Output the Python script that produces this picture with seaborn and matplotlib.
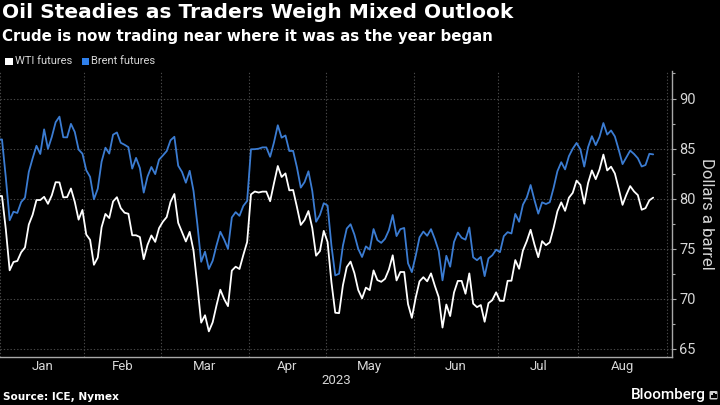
import numpy as np
import pandas as pd
import matplotlib
matplotlib.use("Agg")
import matplotlib.pyplot as plt
from matplotlib.patches import Rectangle, FancyBboxPatch
import seaborn as sns

# ---------------- data (daily settlements, weekdays Dec 30 2022 .. Aug 28 2023) ----------------
START_DATE = "2022-12-30"
END_DATE = "2023-08-28"

wti = [80.26,
       # Jan
       80.26, 76.93, 72.84, 73.67, 73.77, 74.63, 75.12, 77.41, 78.39, 79.86,
       79.86, 80.18, 79.48, 80.33, 81.64, 81.62, 80.13, 80.15, 81.01, 79.68,
       77.90, 78.87,
       # Feb
       76.41, 75.88, 73.39, 74.11, 77.14, 78.47, 78.06, 79.72, 80.14, 79.06,
       78.59, 78.49, 76.34, 76.34, 76.16, 73.95, 75.39, 76.32, 75.68, 77.05,
       # Mar
       77.69, 78.16, 79.68, 80.46, 77.58, 76.66, 75.72, 76.68, 74.80, 71.33,
       67.61, 68.35, 66.74, 67.64, 69.33, 70.90, 69.96, 69.26, 72.81, 73.20,
       72.97, 74.37, 75.67,
       # Apr
       80.42, 80.71, 80.61, 80.70, 80.70, 79.74, 81.53, 83.26, 82.16, 82.52,
       80.83, 80.86, 79.16, 77.37, 77.87, 78.76, 77.07, 74.30, 74.76, 76.78,
       # May
       75.66, 71.66, 68.60, 68.56, 71.34, 73.16, 73.71, 72.56, 70.87, 70.04,
       71.11, 70.86, 72.83, 71.86, 71.69, 71.99, 72.91, 74.34, 71.83, 72.67,
       72.67, 69.46, 68.09,
       # Jun
       70.10, 71.74, 72.15, 71.74, 72.53, 71.29, 70.17, 67.12, 69.42, 68.27,
       70.62, 71.78, 71.78, 70.50, 72.53, 69.51, 69.16, 69.37, 67.70, 69.56,
       69.86, 70.64,
       # Jul
       69.79, 69.79, 71.79, 71.80, 73.86, 72.99, 74.83, 75.75, 76.89, 75.42,
       74.15, 75.75, 75.35, 75.63, 77.07, 78.74, 79.63, 78.78, 80.09, 80.58,
       81.80,
       # Aug
       81.37, 79.49, 81.55, 82.82, 81.94, 82.92, 84.40, 82.82, 83.19, 82.51,
       80.99, 79.38, 80.39, 81.25, 80.72, 80.35, 78.89, 79.05, 79.83, 80.10]

brent = [85.91,
         # Jan
         85.91, 82.10, 77.84, 78.69, 78.57, 79.65, 80.10, 82.67, 84.03, 85.28,
         84.46, 86.92, 84.98, 86.16, 87.63, 88.19, 86.13, 86.12, 87.47, 86.66,
         84.90, 84.49,
         # Feb
         82.84, 82.17, 79.94, 80.99, 83.69, 85.09, 84.50, 86.39, 86.61, 85.58,
         85.38, 85.14, 83.00, 84.07, 83.05, 80.60, 82.21, 83.16, 82.45, 83.89,
         # Mar
         84.31, 84.75, 85.83, 86.18, 83.29, 82.66, 81.59, 82.78, 80.77, 77.45,
         73.69, 74.70, 72.97, 73.79, 75.32, 76.69, 75.91, 74.99, 78.12, 78.65,
         78.28, 79.27, 79.77,
         # Apr
         84.93, 84.94, 84.99, 85.12, 85.12, 84.18, 85.61, 87.33, 86.09, 86.31,
         84.76, 84.77, 83.12, 81.10, 81.66, 82.73, 80.77, 77.69, 78.37, 79.54,
         # May
         79.31, 75.32, 72.33, 72.50, 75.30, 77.01, 77.44, 76.41, 74.98, 74.17,
         75.23, 74.91, 76.96, 75.86, 75.58, 75.99, 76.84, 78.36, 76.26, 76.95,
         77.07, 73.54, 72.66,
         # Jun
         74.28, 76.13, 76.71, 76.29, 76.95, 75.96, 74.79, 71.84, 74.29, 73.20,
         75.67, 76.61, 76.09, 75.90, 77.12, 74.14, 73.85, 74.18, 72.26, 74.03,
         74.34, 74.90,
         # Jul
         74.65, 76.25, 76.65, 76.52, 78.47, 77.69, 79.40, 80.11, 81.36, 79.87,
         78.50, 79.63, 79.46, 79.64, 81.07, 82.74, 83.64, 82.92, 84.24, 84.99,
         85.56,
         # Aug
         84.91, 83.20, 85.14, 86.24, 85.34, 86.17, 87.55, 86.40, 86.81, 86.21,
         84.89, 83.45, 84.12, 84.80, 84.46, 84.03, 83.21, 83.36, 84.48, 84.42]

SERIES = ["WTI futures", "Brent futures"]
MONTH_STARTS = ["2023-01-01", "2023-02-01", "2023-03-01", "2023-04-01", "2023-05-01",
                "2023-06-01", "2023-07-01", "2023-08-01", "2023-09-01"]
MONTH_LABELS = ["Jan", "Feb", "Mar", "Apr", "May", "Jun", "Jul", "Aug"]
YEAR_LABEL = "2023"
Y_TICKS = [65, 70, 75, 80, 85, 90]

TITLE = "Oil Steadies as Traders Weigh Mixed Outlook"
SUBTITLE = "Crude is now trading near where it was as the year began"
SOURCE = "Source: ICE, Nymex"
Y_LABEL = "Dollars a barrel"

# ---------------- build frame (weekday axis) ----------------
dates = pd.bdate_range(START_DATE, END_DATE)
origin = np.datetime64("2023-01-02")
pos = np.busday_count(origin, dates.values.astype("datetime64[D]")).astype(float)
df = pd.DataFrame({
    "pos": np.concatenate([pos, pos]),
    "price": np.concatenate([wti, brent]),
    "series": [SERIES[0]] * len(pos) + [SERIES[1]] * len(pos),
})

ms = np.array(MONTH_STARTS, dtype="datetime64[D]")
first_wd = np.busday_offset(ms, 0, roll="forward")
bounds = np.busday_count(origin, first_wd) - 0.5
mids = (bounds[:-1] + bounds[1:]) / 2

# ---------------- style ----------------
BG = "#000000"
BLUE = "#3b7cd2"
GRID = "#484848"
AXC = "#a8a8a8"
TXT = "#d6d6d6"

sns.set_theme(style="dark")
plt.rcParams.update({
    "figure.facecolor": BG, "axes.facecolor": BG, "savefig.facecolor": BG,
    "text.color": TXT, "axes.labelcolor": TXT,
    "xtick.color": AXC, "ytick.color": AXC,
})
plt.rcParams["font.family"] = ["Roboto", "DejaVu Sans"]

fig = plt.figure(figsize=(7.2, 4.05), dpi=100)
ax = fig.add_axes([0.0, 0.1178, 0.9338, 0.7069])

sns.lineplot(data=df, x="pos", y="price", hue="series", hue_order=SERIES,
             palette={SERIES[0]: "#ffffff", SERIES[1]: BLUE},
             estimator=None, linewidth=1.3, legend=False, ax=ax)

ax.set_xlim(bounds[0] - 0.02, bounds[-1] + 1.5)
ax.set_ylim(64.15, 92.75)

# x axis: boundaries as major ticks + grid, month names at mid-month
ax.set_xticks(bounds)
ax.set_xticklabels([])
ax.set_xticks(mids, minor=True)
ax.set_xticklabels(MONTH_LABELS, minor=True)
ax.tick_params(axis="x", which="major", length=3, width=0.8, color=AXC, direction="out")
ax.tick_params(axis="x", which="minor", length=0, pad=2.2, labelsize=9.5, labelcolor=TXT)

# y axis on the right
ax.yaxis.tick_right()
ax.set_yticks(Y_TICKS)
ax.set_yticklabels([str(v) for v in Y_TICKS])
ax.set_yticks([v + 2.5 for v in Y_TICKS], minor=True)
ax.tick_params(axis="y", which="major", length=3, width=0.8, color=AXC, pad=2,
               labelsize=10.5, labelcolor=TXT, right=True, left=False)
ax.tick_params(axis="y", which="minor", length=2.5, width=0.8, color=AXC, right=True, left=False)

ax.set_xlabel("")
ax.set_ylabel("")
ax.grid(True, which="major", axis="both", color=GRID, linestyle=(0, (1.2, 1.8)), linewidth=0.8)
ax.set_axisbelow(True)

for s in ["left", "top"]:
    ax.spines[s].set_visible(False)
for s in ["right", "bottom"]:
    ax.spines[s].set_visible(True)
    ax.spines[s].set_color(AXC)
    ax.spines[s].set_linewidth(1.0)

# ---------------- texts ----------------
fig.text(0.003, 0.970, TITLE, fontsize=14.5, fontweight="bold", color="#ffffff",
         family=["DejaVu Sans"], va="center", ha="left")
fig.text(0.003, 0.909, SUBTITLE, fontsize=10.85, fontweight="bold", color="#ffffff",
         family=["DejaVu Sans"], va="center", ha="left")

# legend
W, H = 720.0, 405.0
def px(x, y):
    return x / W, 1 - y / H
fig.patches.append(Rectangle(px(5, 65), 7.5 / W, 7.5 / H, transform=fig.transFigure,
                             facecolor="#ffffff", edgecolor="none"))
fig.text(*px(15, 61), SERIES[0], fontsize=8.0, color=TXT, va="center", ha="left")
fig.patches.append(Rectangle(px(81.5, 65), 7.5 / W, 7.5 / H, transform=fig.transFigure,
                             facecolor="#2f80ec", edgecolor="none"))
fig.text(*px(91, 61), SERIES[1], fontsize=8.0, color=TXT, va="center", ha="left")

fig.text(*px(336, 381), YEAR_LABEL, fontsize=9.5, color=TXT, va="center", ha="center")
fig.text(*px(706, 214), Y_LABEL, fontsize=12, color=TXT, rotation=270,
         va="center", ha="center")

fig.text(*px(3, 397.5), SOURCE, fontsize=7.6, fontweight="bold", color="#ffffff",
         family=["DejaVu Sans"], va="center", ha="left")
fig.text(*px(706, 395.5), "Bloomberg", fontsize=11, fontweight="medium", color="#ffffff",
         va="center", ha="right")
# small Bloomberg icon
fig.patches.append(FancyBboxPatch(px(709.5, 399.5), 8 / W, 8.5 / H, transform=fig.transFigure,
                                  boxstyle="round,pad=0,rounding_size=0.002",
                                  facecolor="#cfcfcf", edgecolor="none"))
for bx, bh in [(711.3, 3.0), (713.3, 5.0), (715.3, 3.8)]:
    fig.patches.append(Rectangle(px(bx, 397.5), 1.3 / W, bh / H, transform=fig.transFigure,
                                 facecolor="#000000", edgecolor="none"))

fig.savefig("out.png", dpi=100, facecolor=BG)
